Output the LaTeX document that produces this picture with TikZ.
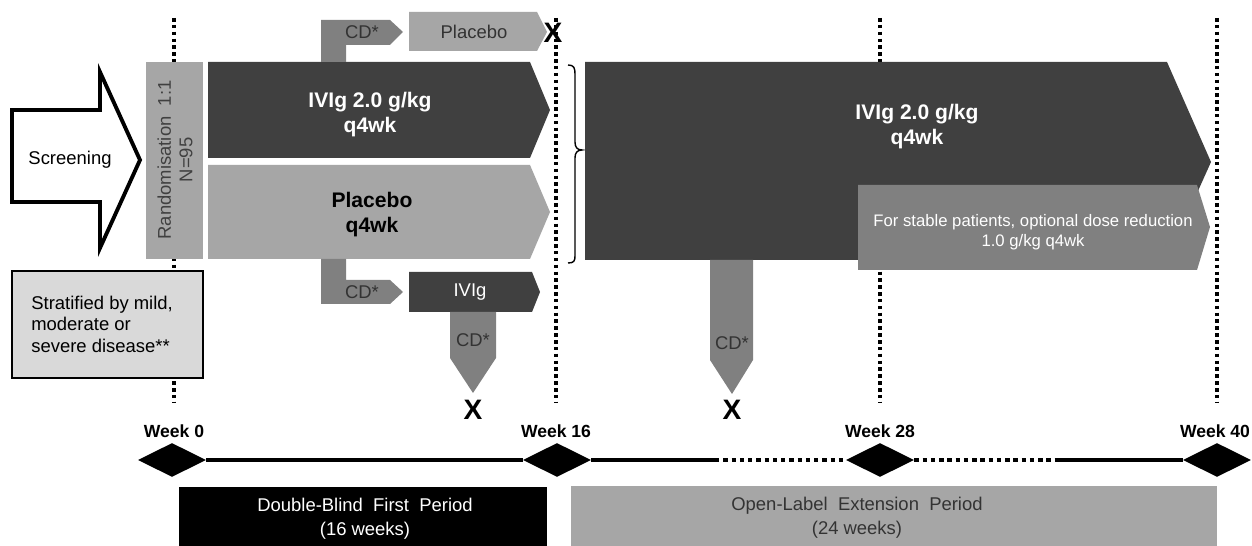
\documentclass[tikz,border=0pt]{standalone}
\usepackage{fontspec}
\setmainfont{Liberation Sans}
\usetikzlibrary{shapes.geometric}

\definecolor{armdark}{HTML}{404040}
\definecolor{armmid}{HTML}{808080}
\definecolor{armlight}{HTML}{A6A6A6}
\definecolor{stratfill}{HTML}{D9D9D9}
\definecolor{inktext}{HTML}{333333}

\tikzset{
  guide/.style={line width=2pt,dash pattern=on 2pt off 1.9pt},
  timeline/.style={line width=2.6pt},
  timedots/.style={line width=2.5pt,dash pattern=on 2.5pt off 2.2pt},
  plaintxt/.style={font=\fontsize{10.5}{12.2}\selectfont,align=center,inner sep=0pt},
  armtxt/.style={font=\fontsize{12}{14.2}\selectfont\bfseries,align=center,inner sep=0pt},
  weektxt/.style={font=\fontsize{10}{12}\selectfont\bfseries,inner sep=0pt},
  stopmark/.style={font=\fontsize{16}{16}\selectfont\bfseries,inner sep=0pt},
  milestone/.style={diamond,fill=black,inner sep=0pt,minimum width=1.36cm,minimum height=0.68cm}
}

\begin{document}
\begin{tikzpicture}[x=0.02cm,y=-0.02cm]
    \useasboundingbox[fill=white] (0,0) rectangle (1252,546);

    % week guides
    \foreach \wx in {174,556,880,1217}
        \draw[guide] (\wx,18) -- (\wx,403);

    % screening
    \draw[line width=2.2pt,fill=white] (12,110) -- (100,110) -- (100,72) -- (140,160)
        -- (100,248) -- (100,202) -- (12,202) -- cycle;
    \node[plaintxt] (screening) at (70,160) {Screening};

    % randomisation
    \fill[armlight] (146,62) rectangle (203,259);
    \node[plaintxt,rotate=90,text=armdark] (random) at (175,160) {Randomisation~~1:1\\N=95};
    \draw[line width=1.2pt,fill=stratfill] (12,271) rectangle (203,378);
    \node[plaintxt,align=left,anchor=west] (strat) at (31,324)
        {Stratified by mild,\\moderate or\\severe disease**};

    % double-blind arms
    \fill[armdark] (208,62) -- (530,62) -- (550,110) -- (530,158) -- (208,158) -- cycle;
    \fill[armlight] (208,165) -- (530,165) -- (550,212) -- (530,259) -- (208,259) -- cycle;
    \node[armtxt,text=white] (ivigarm) at (370,115) {IVIg 2.0 g/kg\\q4wk};
    \node[armtxt] (placeboarm) at (372,215) {Placebo\\q4wk};

    % rescue switches
    \fill[armmid] (321,62) -- (321,20) -- (390,20) -- (403,32) -- (390,45) -- (346,45) -- (346,62) -- cycle;
    \fill[armlight] (409,12) -- (537,12) -- (547,32) -- (537,51) -- (409,51) -- cycle;
    \node[plaintxt,text=inktext] (cdtop) at (362,32) {CD*};
    \node[plaintxt,text=inktext] (placebosw) at (474,32) {Placebo};
    \node[stopmark] (stoptop) at (553,33) {X};

    \fill[armmid] (321,259) -- (321,304) -- (390,304) -- (403,292) -- (390,280) -- (346,280) -- (346,259) -- cycle;
    \fill[armdark] (409,272) -- (532,272) -- (540,292) -- (532,312) -- (409,312) -- cycle;
    \fill[armmid] (450,312) -- (450,358) -- (473,393) -- (496,358) -- (496,312) -- cycle;
    \node[plaintxt,text=inktext] (cdlow) at (362,292) {CD*};
    \node[plaintxt,text=white] (ivigsw) at (470,292) {IVIg};
    \node[plaintxt,text=inktext] (cdivig) at (473,340) {CD*};
    \node[stopmark] (stopivig) at (473,410) {X};

    % brace
    \draw[line width=0.8pt] (568,65) .. controls (574,65) and (575,68) .. (575,74) -- (575,142)
        .. controls (575,147) and (577,150) .. (582,150) .. controls (577,150) and (575,153) .. (575,158)
        -- (575,256) .. controls (575,261) and (574,263) .. (568,263);

    % open-label extension
    \fill[armdark] (585,62) -- (1167,62) -- (1211,162) -- (1167,260) -- (585,260) -- cycle;
    \node[armtxt,text=white] (ivigext) at (917,127) {IVIg 2.0 g/kg\\q4wk};
    \fill[armmid] (858,185) -- (1197,185) -- (1210,227) -- (1197,270) -- (858,270) -- cycle;
    \node[plaintxt,text=white,font=\fontsize{9.5}{11.3}\selectfont] (dose) at (1033,232)
        {For stable patients, optional dose reduction\\1.0 g/kg q4wk};
    \fill[armmid] (710,260) -- (710,360) -- (732,394) -- (753,360) -- (753,260) -- cycle;
    \node[plaintxt,text=inktext] (cdext) at (732,343) {CD*};
    \node[stopmark] (stopext) at (732,410) {X};

    % timeline
    \node[weektxt] (w0lab) at (174,431) {Week 0};
    \node[weektxt] (w16lab) at (556,431) {Week 16};
    \node[weektxt] (w28lab) at (880,431) {Week 28};
    \node[weektxt] (w40lab) at (1215,431) {Week 40};
    \node[milestone] (w0) at (172,460) {};
    \node[milestone] (w16) at (557,460) {};
    \node[milestone] (w28) at (880,460) {};
    \node[milestone] (w40) at (1217,460) {};
    \coordinate (dotstart) at (715,460);
    \coordinate (dotend) at (1058,460);
    \draw[timeline] (w0.east) -- (w16.west);
    \draw[timeline] (w16.east) -- (dotstart);
    \draw[timedots] (dotstart) -- (w28.west);
    \draw[timedots] (w28.east) -- (dotend);
    \draw[timeline] (dotend) -- (w40.west);

    % periods
    \fill[black] (179,487) rectangle (547,546);
    \node[plaintxt,text=white,font=\fontsize{10.5}{13.6}\selectfont] (dbperiod) at (365,519)
        {Double-Blind~~First~~Period\\(16 weeks)};
    \fill[armlight] (571,486) rectangle (1217,546);
    \node[plaintxt,text=inktext,font=\fontsize{10.5}{13.6}\selectfont] (olperiod) at (857,518)
        {Open-Label~~Extension~~Period\\(24 weeks)};
\end{tikzpicture}
\end{document}
